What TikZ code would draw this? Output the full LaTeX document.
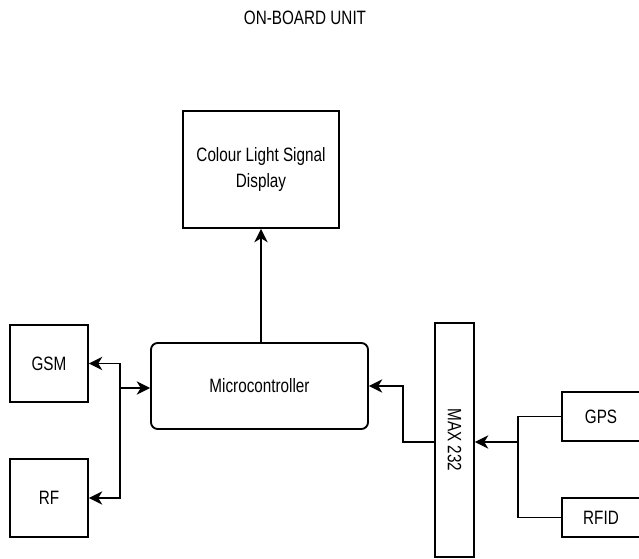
\documentclass[tikz,border=0pt]{standalone}
\usepackage{fontspec}
\setmainfont{Liberation Sans}[FakeStretch=0.79]
\usetikzlibrary{arrows.meta}
\begin{document}
\begin{tikzpicture}[x=0.75pt,y=-0.75pt,
  box/.style={draw, line width=1.4pt, inner sep=0pt, align=center,
    font=\fontsize{14.5}{19.5}\selectfont},
  conn/.style={line width=1.4pt, -{Stealth[length=10pt,width=10pt,inset=3pt]}},
  wire/.style={line width=1.4pt}]
\useasboundingbox (0,0) rectangle (639,559);
\clip (0,0) rectangle (639,559);
\node[font=\fontsize{14.5}{16}\selectfont] (title) at (305,18) {ON-BOARD UNIT};
\node[box, minimum width=117pt, minimum height=87.75pt] (disp) at (261,169.5) {Colour Light Signal\\Display};
\node[box, rounded corners=5pt, minimum width=162.75pt, minimum height=64.5pt] (micro) at (259.5,386) {Microcontroller};
\node[box, minimum width=58.5pt, minimum height=57.75pt] (gsm) at (49,363.5) {GSM};
\node[box, minimum width=58.5pt, minimum height=58.5pt] (rf) at (49,498) {RF};
\node[box, minimum width=29.25pt, minimum height=175.5pt] (max) at (454.5,440) {};
\node[font=\fontsize{14.5}{16}\selectfont, rotate=-90] (maxlabel) at (max.center) {MAX 232};
\node[box, minimum width=58.5pt, minimum height=36.75pt] (gps) at (601,416.5) {GPS};
\node[box, minimum width=58.5pt, minimum height=29.25pt] (rfid) at (601,517.5) {RFID};
\coordinate (jl) at (120,388);
\coordinate (jm) at (403,442);
\coordinate (jr) at (518,442);
\draw[conn] (disp.south |- micro.north) -- (disp.south);
\draw[conn] (jl) -- (micro.west |- jl);
\draw[conn] (jl) |- (gsm.east);
\draw[conn] (jl) |- (rf.east);
\draw[conn] (max.west |- jm) -- (jm) |- (micro.east);
\draw[conn] (jr) -- (max.east |- jr);
\draw[wire] (gps.west) -| (jr);
\draw[wire] (jr) |- (rfid.west);
\end{tikzpicture}
\end{document}
